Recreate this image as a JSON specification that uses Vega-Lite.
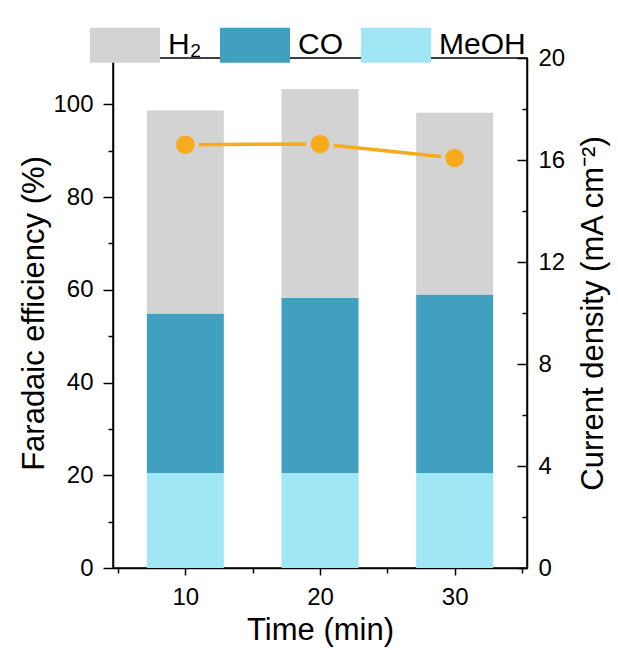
{
  "$schema": "https://vega.github.io/schema/vega-lite/v6.json",
  "width": 414,
  "height": 510,
  "autosize": "none",
  "padding": {"left": 113, "top": 58, "right": 91, "bottom": 82},
  "config": {
    "font": "Liberation Sans",
    "view": {"stroke": "black", "strokeWidth": 1.5},
    "legend": {"padding": 0},
    "axis": {
      "domainColor": "black", "domainWidth": 1.5,
      "tickColor": "black", "tickWidth": 1.5,
      "labelFont": "Liberation Sans", "labelFontSize": 24, "labelColor": "black",
      "titleFont": "Liberation Sans", "titleFontSize": 31, "titleFontWeight": "normal", "titleColor": "black",
      "grid": false
    }
  },
  "datasets": {
    "fe": [
      {"time": 10, "species": "MeOH", "fe": 20.5, "ord": 0},
      {"time": 10, "species": "CO", "fe": 34.4, "ord": 1},
      {"time": 10, "species": "H₂", "fe": 43.8, "ord": 2},
      {"time": 20, "species": "MeOH", "fe": 20.5, "ord": 0},
      {"time": 20, "species": "CO", "fe": 37.8, "ord": 1},
      {"time": 20, "species": "H₂", "fe": 45.0, "ord": 2},
      {"time": 30, "species": "MeOH", "fe": 20.5, "ord": 0},
      {"time": 30, "species": "CO", "fe": 38.5, "ord": 1},
      {"time": 30, "species": "H₂", "fe": 39.2, "ord": 2}
    ],
    "cd": [
      {"time": 10, "j": 16.6},
      {"time": 20, "j": 16.63},
      {"time": 30, "j": 16.08}
    ]
  },
  "layer": [
    {
      "data": {"name": "fe"},
      "mark": {"type": "bar", "size": 77},
      "encoding": {
        "x": {
          "field": "time", "type": "quantitative",
          "scale": {"domain": [5, 35], "nice": false},
          "axis": {
            "title": "Time (min)",
            "values": [5, 10, 15, 20, 25, 30, 35],
            "labelExpr": "datum.value % 10 == 0 ? datum.label : ''",
            "tickSize": {"condition": {"test": "datum.value % 10 == 0", "value": 7}, "value": 5},
            "labelPadding": 10, "titlePadding": 6
          }
        },
        "y": {
          "field": "fe", "type": "quantitative", "stack": "zero",
          "scale": {"domain": [0, 110], "nice": false},
          "axis": {
            "title": "Faradaic efficiency (%)",
            "orient": "left",
            "values": [0, 10, 20, 30, 40, 50, 60, 70, 80, 90, 100],
            "labelExpr": "datum.value % 20 == 0 ? datum.label : ''",
            "tickSize": {"condition": {"test": "datum.value % 20 == 0", "value": 10}, "value": 5},
            "labelPadding": 10, "titlePadding": 2
          }
        },
        "color": {
          "field": "species", "type": "nominal",
          "scale": {"domain": ["H₂", "CO", "MeOH"], "range": ["#d3d3d3", "#41a0c0", "#a0e6f4"]},
          "legend": {
            "orient": "none", "legendX": -23, "legendY": -48,
            "direction": "horizontal", "title": null,
            "symbolType": "M-1,-0.5H1V0.5H-1Z", "symbolSize": 4900,
            "symbolStrokeWidth": 0, "symbolOpacity": 1,
            "labelFontSize": 30, "labelFont": "Liberation Sans", "labelColor": "black",
            "labelOffset": 8, "columnPadding": 18
          }
        },
        "order": {"field": "ord", "type": "quantitative"}
      }
    },
    {
      "data": {"name": "cd"},
      "encoding": {
        "x": {"field": "time", "type": "quantitative"},
        "y": {
          "field": "j", "type": "quantitative",
          "scale": {"domain": [0, 20], "nice": false},
          "axis": {
            "title": "Current density (mA cm⁻²)",
            "orient": "right",
            "values": [0, 2, 4, 6, 8, 10, 12, 14, 16, 18, 20],
            "labelExpr": "datum.value % 4 == 0 ? datum.label : ''",
            "tickSize": {"condition": {"test": "datum.value % 4 == 0", "value": -10}, "value": -5},
            "labelPadding": 21, "titlePadding": 14,
            "titleAngle": 270, "titleBaseline": "top"
          }
        }
      },
      "layer": [
        {"mark": {"type": "line", "color": "#f6aa1c", "strokeWidth": 3.5}},
        {"mark": {"type": "point", "filled": true, "color": "#d3d3d3", "size": 760, "opacity": 1}},
        {"mark": {"type": "point", "filled": true, "color": "#f6aa1c", "size": 346, "opacity": 1}}
      ]
    }
  ],
  "resolve": {"scale": {"y": "independent"}}
}
